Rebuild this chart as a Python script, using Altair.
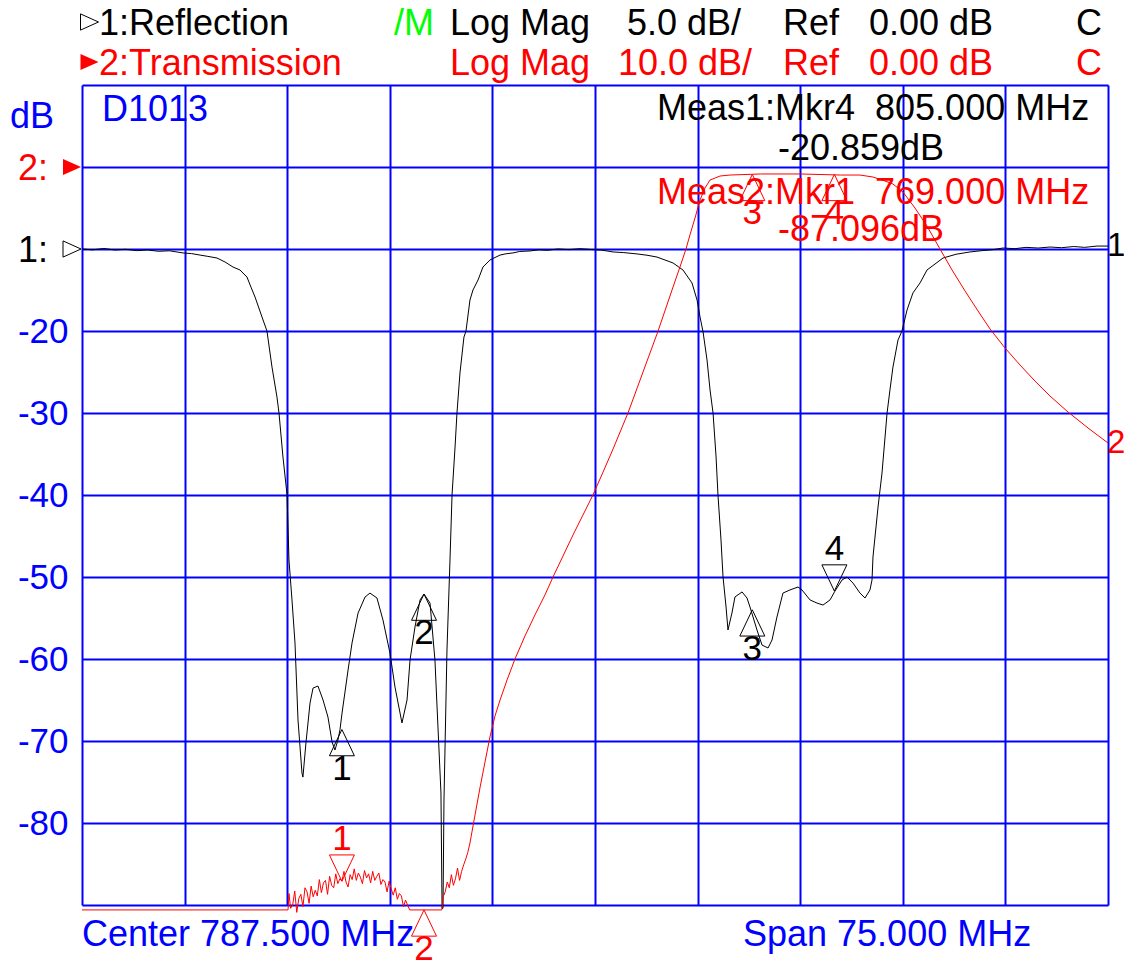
import altair as alt
import pandas as pd

FONT = "Liberation Sans"
BLUE = "#0000ff"
RED = "#ff0000"
BLACK = "#000000"
GREEN = "#00ff00"

# ---------------- data ----------------
# Trace 1: Reflection (Log Mag, 5 dB/div, ref 0 dB)
refl_freq = [750.00, 750.80, 751.60, 752.40, 753.20, 754.00, 754.80, 755.60, 756.40, 757.38,
             758.00, 758.63, 759.20, 759.87, 760.45, 761.04, 761.55, 762.06, 762.35, 762.65,
             763.16, 763.52, 763.89, 764.25, 764.40, 764.69, 764.99, 765.13, 765.35, 765.57,
             765.79, 766.08, 766.15, 766.37, 766.67, 766.89, 767.25, 767.62, 767.98, 768.28,
             768.49, 768.71, 768.86, 769.01, 769.45, 769.74, 770.18, 770.69, 771.05, 771.56,
             772.00, 772.51, 772.88, 773.39, 773.76, 773.98, 774.34, 774.71, 775.00, 775.44,
             775.80, 776.02, 776.24, 776.32, 776.39, 776.46, 776.68, 776.90, 777.05, 777.27,
             777.41, 777.63, 777.92, 778.07, 778.36, 778.58, 778.95, 779.31, 779.82, 780.56,
             781.00, 781.51, 782.00, 782.75, 783.40, 783.99, 784.80, 785.60, 786.40, 787.20,
             788.00, 788.82, 789.60, 790.57, 791.30, 792.03, 793.20, 793.93, 794.59, 794.96,
             795.18, 795.40, 795.69, 795.91, 796.13, 796.35, 796.49, 796.71, 796.86, 797.08,
             797.22, 797.51, 797.73, 798.25, 798.61, 798.83, 799.34, 799.71, 800.15, 800.44,
             800.80, 801.24, 801.75, 802.34, 802.63, 803.22, 803.73, 804.17, 804.68, 805.04,
             805.56, 805.92, 806.36, 806.87, 807.24, 807.60, 807.75, 807.82, 808.19, 808.48,
             808.85, 809.06, 809.28, 809.65, 809.94, 810.31, 810.74, 811.26, 811.77, 812.94,
             813.90, 814.91, 815.80, 816.60, 817.32, 818.20, 819.00, 819.90, 820.76, 821.60,
             822.50, 823.30, 824.20, 825.00]
refl_db = [0.00, -0.05, 0.03, -0.06, -0.02, -0.10, -0.06, -0.14, -0.11, -0.24,
           -0.28, -0.37, -0.45, -0.55, -0.79, -1.10, -1.28, -1.71, -2.32, -2.93,
           -4.15, -5.00, -7.20, -9.02, -10.0, -12.68, -15.0, -18.96, -21.40, -24.02,
           -28.72, -31.95, -32.20, -30.12, -27.68, -26.77, -26.65, -27.50, -28.54, -30.06,
           -30.55, -29.94, -29.30, -28.29, -25.67, -24.02, -22.20, -21.22, -20.98, -21.28,
           -22.62, -24.63, -26.71, -28.90, -27.50, -25.06, -23.05, -21.40, -21.04, -21.59,
           -25.06, -29.15, -33.17, -40.2, -40.2, -33.6, -24.45, -18.96, -15.0, -12.07,
           -10.0, -7.56, -5.37, -5.00, -3.11, -2.50, -1.89, -1.10, -0.67, -0.37,
           -0.29, -0.24, -0.15, -0.12, -0.05, -0.08, 0.00, -0.04, 0.02, -0.03,
           -0.07, -0.18, -0.22, -0.30, -0.38, -0.49, -0.85, -1.28, -2.07, -3.11,
           -4.15, -5.06, -6.77, -8.60, -10.0, -12.68, -15.0, -17.74, -20.0, -21.83,
           -23.23, -22.20, -21.22, -20.91, -21.28, -21.83, -23.23, -24.15, -24.33, -23.84,
           -22.44, -20.98, -20.79, -20.61, -20.79, -21.40, -21.59, -21.71, -21.40, -20.86,
           -20.18, -20.00, -20.37, -20.98, -21.28, -20.79, -20.18, -18.78, -15.73, -13.66,
           -10.0, -8.60, -7.20, -5.55, -5.00, -3.72, -2.68, -2.07, -1.28, -0.55,
           -0.32, -0.18, -0.10, -0.04, 0.06, 0.02, 0.10, 0.06, 0.12, 0.08,
           0.15, 0.10, 0.18, 0.18]

# Trace 2: Transmission (Log Mag, 10 dB/div, ref 0 dB)
trans_freq = [750.00, 765.06, 765.13, 765.25, 765.40, 765.55, 765.70, 765.85, 766.00, 766.15,
              766.30, 766.45, 766.60, 766.75, 766.90, 767.05, 767.20, 767.35, 767.50, 767.65,
              767.80, 767.95, 768.10, 768.25, 768.40, 768.55, 768.70, 768.85, 769.00, 769.15,
              769.30, 769.45, 769.60, 769.75, 769.90, 770.05, 770.20, 770.35, 770.50, 770.65,
              770.80, 770.95, 771.10, 771.25, 771.40, 771.55, 771.70, 771.85, 772.00, 772.15,
              772.30, 772.45, 772.60, 772.75, 772.90, 773.05, 773.20, 773.35, 773.50, 773.65,
              773.80, 773.95, 776.30, 776.40, 776.55, 776.70, 776.85, 777.00, 777.15, 777.30,
              777.45, 777.60, 777.75, 777.90, 778.05, 778.20, 778.36, 778.73, 779.09, 779.46,
              779.82, 780.19, 780.56, 781.07, 781.65, 782.38, 783.11, 783.84, 784.43, 785.16,
              785.89, 786.62, 787.35, 788.09, 788.82, 789.91, 791.01, 792.11, 793.13, 793.71,
              794.15, 794.44, 794.81, 795.18, 795.54, 795.91, 796.64, 797.37, 799.60, 802.53,
              805.45, 806.87, 807.82, 808.70, 809.28, 810.01, 810.89, 811.77, 812.72, 813.60,
              814.55, 815.50, 816.38, 817.47, 818.57, 819.66, 820.76, 822.08, 823.54, 825.00]
trans_db = [-90.6, -90.6, -88.6, -90.4, -90.0, -88.3, -90.9, -89.2, -88.7, -90.2,
            -87.9, -88.4, -89.8, -87.7, -89.0, -88.2, -88.9, -86.9, -88.5, -87.3,
            -87.0, -88.7, -86.5, -87.6, -87.9, -86.2, -87.4, -86.8, -87.1, -85.9,
            -87.2, -87.8, -86.3, -86.9, -85.6, -87.0, -86.1, -86.6, -87.4, -85.8,
            -86.7, -86.2, -87.3, -85.9, -87.0, -86.5, -86.1, -87.5, -86.9, -87.2,
            -88.4, -87.1, -88.0, -88.8, -87.9, -89.3, -88.6, -88.9, -90.2, -89.4,
            -90.0, -90.6, -90.6, -89.0, -88.4, -87.2, -87.9, -86.3, -87.6, -86.8,
            -85.5, -87.0, -85.9, -85.1, -84.4, -83.6, -82.44, -79.02, -75.73, -72.56,
            -69.51, -66.95, -65.00, -62.56, -60.00, -57.20, -54.63, -52.20, -50.00, -47.44,
            -44.88, -42.44, -40.00, -37.20, -34.39, -30.00, -25.00, -20.00, -15.00, -12.20,
            -10.00, -8.29, -6.22, -4.02, -2.56, -1.59, -1.10, -0.98, -0.85, -0.85,
            -0.98, -0.98, -1.22, -1.71, -2.07, -3.05, -5.00, -7.20, -10.00, -12.56,
            -15.12, -17.56, -19.76, -22.07, -24.15, -26.10, -27.93, -29.88, -31.83, -33.66]

marker_ids = ["1", "2", "3", "4"]
marker_freq = [769.0, 775.0, 799.0, 805.0]
refl_marker_db = [-29.3, -21.04, -22.0, -20.859]
trans_marker_db = [-87.096, -90.6, -0.9, -0.9]
refl_marker_dir = ["up", "up", "up", "down"]
trans_marker_dir = ["down", "up", "up", "up"]

x_grid = [750.0, 757.5, 765.0, 772.5, 780.0, 787.5, 795.0, 802.5, 810.0, 817.5, 825.0]
y_grid = [-90, -80, -70, -60, -50, -40, -30, -20, -10, 0, 10]
y_labels_shown = [-80, -70, -60, -50, -40, -30, -20]

# ---------------- frames ----------------
refl = pd.DataFrame({"freq": refl_freq, "db": refl_db})
trans = pd.DataFrame({"freq": trans_freq, "db": trans_db})
markers = pd.DataFrame({
    "trace": ["1"] * 4 + ["2"] * 4,
    "id": marker_ids * 2,
    "freq": marker_freq * 2,
    "db": refl_marker_db + trans_marker_db,
    "dir": refl_marker_dir + trans_marker_dir,
})
ends = pd.DataFrame({"trace": ["1", "2"], "id": ["1", "2"],
                     "freq": [refl_freq[-1], trans_freq[-1]],
                     "db": [refl_db[-1], trans_db[-1]]})

POS = "datum.trace == '1' ? -10 + 2 * datum.db : datum.db"

x_enc = alt.X("freq:Q",
              scale=alt.Scale(domain=[750, 825], nice=False, zero=False),
              axis=alt.Axis(values=x_grid, grid=True, gridColor=BLUE, gridWidth=2, gridOpacity=1,
                            labels=False, ticks=False, domain=False, title=None))
lo, hi = min(y_labels_shown), max(y_labels_shown)
y_enc = alt.Y("pos:Q",
              scale=alt.Scale(domain=[-90, 10], nice=False, zero=False),
              axis=alt.Axis(values=y_grid, grid=True, gridColor=BLUE, gridWidth=2, gridOpacity=1,
                            ticks=False, domain=False, title=None,
                            labelExpr=f"datum.value >= {lo} && datum.value <= {hi} ? '' + datum.value : ''",
                            labelFont=FONT, labelFontSize=35, labelColor=BLUE, labelPadding=14))
c_enc = alt.Color("trace:N", scale=alt.Scale(domain=["1", "2"], range=[BLACK, RED]), legend=None)

refl_line = alt.Chart(refl).transform_calculate(trace="'1'").transform_calculate(pos=POS) \
    .mark_line(color=BLACK, strokeWidth=1).encode(x=x_enc, y=y_enc)
trans_line = alt.Chart(trans).transform_calculate(trace="'2'").transform_calculate(pos=POS) \
    .mark_line(color=RED, strokeWidth=1).encode(x=x_enc, y=y_enc)

UP = "M0,0L-1,2.1L1,2.1Z"
DOWN = "M0,0L-1,-2.1L1,-2.1Z"
mk = alt.Chart(markers).transform_calculate(pos=POS)
up_pts = mk.transform_filter("datum.dir == 'up'").mark_point(
    shape=UP, size=625, filled=False, strokeWidth=1, opacity=1).encode(x=x_enc, y=y_enc, color=c_enc)
down_pts = mk.transform_filter("datum.dir == 'down'").mark_point(
    shape=DOWN, size=625, filled=False, strokeWidth=1, opacity=1).encode(x=x_enc, y=y_enc, color=c_enc)
up_lbl = mk.transform_filter("datum.dir == 'up'").mark_text(
    dy=39, font=FONT, fontSize=35, baseline="middle").encode(x=x_enc, y=y_enc, text="id:N", color=c_enc)
down_lbl = mk.transform_filter("datum.dir == 'down'").mark_text(
    dy=-42, font=FONT, fontSize=35, baseline="middle").encode(x=x_enc, y=y_enc, text="id:N", color=c_enc)
end_lbl = alt.Chart(ends).transform_calculate(pos=POS).mark_text(
    align="left", dx=-1, font=FONT, fontSize=33, baseline="middle").encode(
    x=x_enc, y=y_enc, text="id:N", color=c_enc)


def txt(s, x, y, color, align="left", size=36):
    return alt.Chart(pd.DataFrame({"t": [s]})).mark_text(
        align=align, baseline="middle", font=FONT, fontSize=size, color=color
    ).encode(x=alt.value(x), y=alt.value(y), text="t:N")


def tri(x, y, color, filled, size=324):
    path = "M-1,-0.9L1,0L-1,0.9Z"
    return alt.Chart(pd.DataFrame({"t": [0]})).mark_point(
        shape=path, size=size, filled=filled, color=color, strokeWidth=1, opacity=1
    ).encode(x=alt.value(x), y=alt.value(y))


texts = [
    txt("1:Reflection", 17, -61, BLACK),
    txt("/M", 312, -61, GREEN),
    txt("Log Mag", 368, -61, BLACK),
    txt("5.0 dB/", 545, -61, BLACK),
    txt("Ref", 701, -61, BLACK),
    txt("0.00 dB", 787, -61, BLACK),
    txt("C", 994, -61, BLACK),
    txt("2:Transmission", 17, -21, RED),
    txt("Log Mag", 368, -21, RED),
    txt("10.0 dB/", 536, -21, RED),
    txt("Ref", 701, -21, RED),
    txt("0.00 dB", 787, -21, RED),
    txt("C", 994, -21, RED),
    txt("D1013", 20, 25, BLUE),
    txt("dB", -72, 32, BLUE),
    txt("2:", -34, 84, RED, align="right"),
    txt("1:", -34, 166, BLACK, align="right"),
    txt("Meas1:Mkr4\u00a0\u00a0805.000 MHz", 575, 24, BLACK),
    txt("-20.859dB", 696, 64, BLACK),
    txt("Meas2:Mkr1\u00a0\u00a0769.000 MHz", 575, 108, RED),
    txt("-87.096dB", 696, 145, RED),
    txt("Center 787.500 MHz", 0, 850, BLUE),
    txt("Span 75.000 MHz", 661, 850, BLUE),
]
tris = [
    tri(7.5, -63, BLACK, False),
    tri(7.5, -23, RED, True),
    tri(-10, 164, BLACK, False),
    tri(-10, 82, RED, True),
]

chart = alt.layer(
    refl_line, trans_line, up_pts, down_pts, up_lbl, down_lbl, end_lbl, *texts, *tris
).properties(
    width=1026, height=820,
    autosize=alt.AutoSizeParams(type="none"),
    padding={"left": 74, "top": 77, "right": 16, "bottom": 57},
    background="white",
).configure_view(strokeWidth=0)

chart.save("out.html", embed_options={"renderer": "svg", "actions": False})
